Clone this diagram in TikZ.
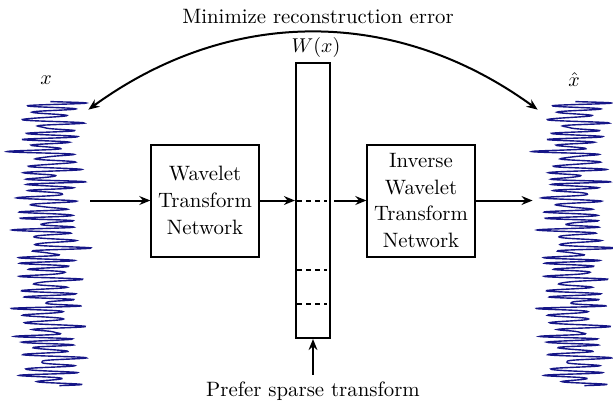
\documentclass[tikz,border=0pt]{standalone}
\usetikzlibrary{positioning,arrows.meta}
\definecolor{wavecol}{RGB}{22,22,135}

\begin{document}
\begin{tikzpicture}[x=0.5pt, y=-0.5pt, font=\fontsize{10.4}{13.4}\selectfont,
    block/.style={draw, line width=1pt, minimum width=52pt, minimum height=56pt, align=center},
    vector/.style={draw, line width=1pt, minimum width=17pt, minimum height=137.5pt},
    signal/.style={minimum width=41pt, minimum height=142pt, inner sep=0pt},
    wave/.style={wavecol, line width=0.7pt},
    arrow/.style={->, >={Stealth[length=5.5pt, width=4.4pt]}, line width=1pt}
]
    \useasboundingbox (0,0) rectangle (613,403);

    \node[signal] (sigin) at (49,244) {};
    \node[signal] (sigout) at (574,244) {};
    \node (xlab) at (46,80) {$x$};
    \node (xhat) at (574,80) {$\hat{x}$};

    \node[block] (wtn) at (205,200.5) {Wavelet\\Transform\\Network};
    \node[vector] (vec) at (313,200.5) {};
    \node (wlab) at (316,47) {$W(x)$};
    \node[block] (iwtn) at (421,200.5) {Inverse\\Wavelet\\Transform\\Network};

    \node (goal) at (318,17) {Minimize reconstruction error};
    \node (pref) at (313,391) {Prefer sparse transform};

    % the two signals
    \foreach \s in {sigin,sigout}
        \draw[wave, shift={(\s.north)}] plot[domain=0:284, samples=700, smooth, variable=\t]
            ({(23+8*sin(23*\t)+7*sin(37*\t+40)+4*sin(49*\t+100))*sin(55*\t+50*sin(9*\t))+4*sin(13*\t+20)}, {\t});

    % coefficients
    \foreach \yy in {201,270,304}
        \draw[line width=1pt, dash pattern=on 2.5pt off 2pt] (297,\yy) -- (327,\yy);

    \draw[arrow] (sigin.east |- wtn.west) -- (wtn.west);
    \draw[arrow] (wtn.east) -- (vec.west |- wtn.east);
    \draw[arrow, shorten <=1.5pt] (vec.east |- iwtn.west) -- (iwtn.west);
    \draw[arrow] (iwtn.east) -- (sigout.west |- iwtn.east);
    \draw[arrow] (pref) -- (vec.south);
    \draw[arrow, <->] ([shift={(-2,8)}]sigin.north east) to[bend left=36] ([shift={(5,8)}]sigout.north west);
\end{tikzpicture}
\end{document}
